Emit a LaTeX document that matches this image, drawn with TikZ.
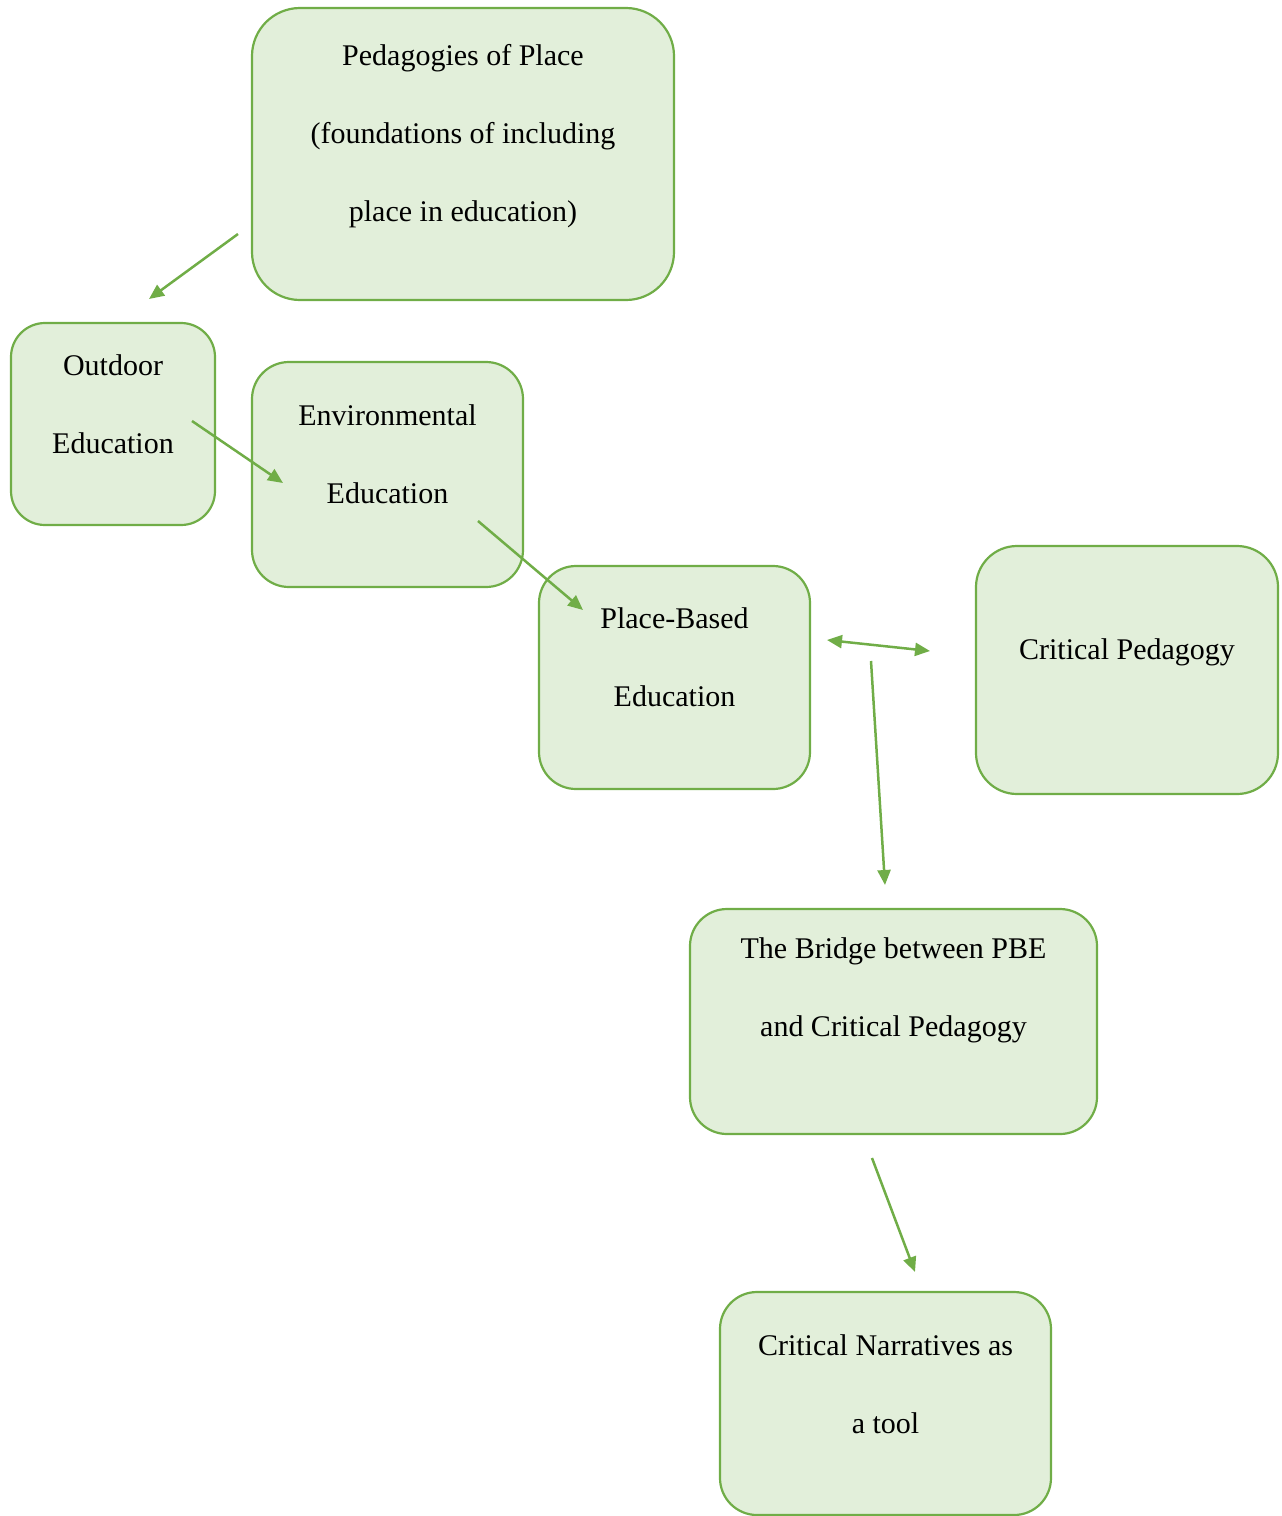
\documentclass[tikz,border=0pt]{standalone}
\usepackage{fontspec}
\setmainfont{Liberation Serif}
\usetikzlibrary{arrows.meta}

\definecolor{boxfill}{HTML}{E2EFDA}
\definecolor{boxline}{HTML}{70AD47}

% box of fixed size, text hung from the top
\newcommand{\boxtext}[4]{\parbox[c][#2][t]{#1}{\centering\rule{0pt}{#3}#4}}

\begin{document}
\begin{tikzpicture}[x=1pt, y=-1pt,
  font=\fontsize{30}{78}\selectfont,
  main/.style = {draw=boxline, fill=boxfill, line width=2.2pt, inner sep=0pt},
  link/.style = {draw=boxline, line width=2.5pt, -{Triangle[length=15pt,width=13pt]}},
  twoway/.style = {link, {Triangle[length=15pt,width=13pt]}-{Triangle[length=15pt,width=13pt]}}]

\useasboundingbox (0,0) rectangle (1282,1516);

\node[main, rounded corners=48pt] (place) at (463,154)
  {\boxtext{422pt}{292pt}{57pt}{Pedagogies of Place\\(foundations of including\\place in education)}};
\node[main, rounded corners=34pt] (outdoor) at (113,424)
  {\boxtext{204pt}{202pt}{52pt}{Outdoor\\Education}};
\node[main, rounded corners=37pt] (env) at (387.5,474.5)
  {\boxtext{271pt}{225pt}{63pt}{Environmental\\Education}};
\node[main, rounded corners=37pt] (pbe) at (674.5,677.5)
  {\boxtext{271pt}{223pt}{62pt}{Place-Based\\Education}};
\node[main, rounded corners=41pt] (critped) at (1127,670)
  {\boxtext{302pt}{248pt}{113pt}{Critical Pedagogy}};
\node[main, rounded corners=37pt] (bridge) at (893.5,1021.5)
  {\boxtext{407pt}{225pt}{49pt}{The Bridge between PBE\\and Critical Pedagogy}};
\node[main, rounded corners=37pt] (narr) at (885.5,1403.5)
  {\boxtext{331pt}{223pt}{63pt}{Critical Narratives as\\a tool}};

% loose arrow ends
\coordinate (place-a) at (238,234);
\coordinate (place-b) at (149,299);
\coordinate (out-a) at (192,421);
\coordinate (out-b) at (283,483);
\coordinate (env-a) at (478,521);
\coordinate (env-b) at (583,610);
\coordinate (pbe-a) at (827,640);
\coordinate (pbe-b) at (930,651);
\coordinate (down-a) at (871,661);
\coordinate (down-b) at (885,885);
\coordinate (bridge-a) at (872,1158);
\coordinate (bridge-b) at (915,1272);

\draw[link] (place-a) -- (place-b);
\draw[link] (out-a) -- (out-b);
\draw[link] (env-a) -- (env-b);
\draw[twoway] (pbe-a) -- (pbe-b);
\draw[link] (down-a) -- (down-b);
\draw[link] (bridge-a) -- (bridge-b);

\end{tikzpicture}
\end{document}
